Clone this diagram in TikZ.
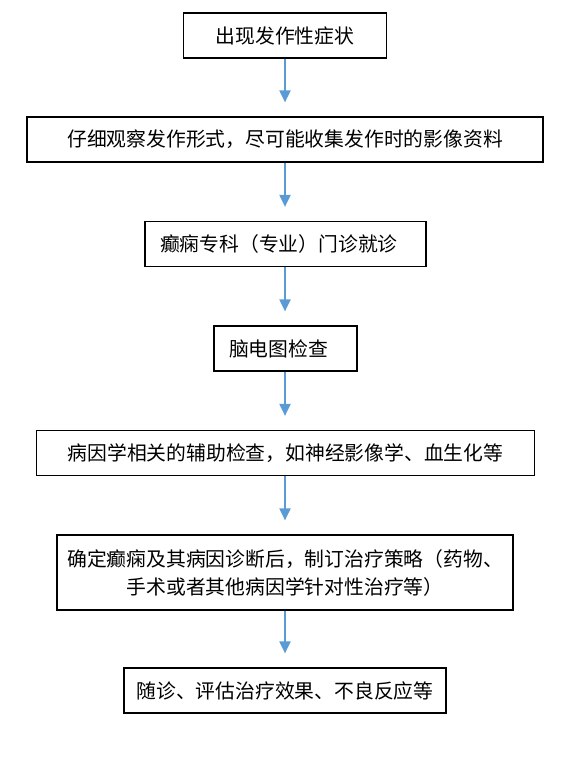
\documentclass[tikz,border=0pt]{standalone}
\usepackage{fontspec}
\setmainfont{Noto Sans CJK SC}
\usetikzlibrary{arrows.meta}
\definecolor{arrowblue}{HTML}{5B9BD5}
\begin{document}
\begin{tikzpicture}[x=1pt,y=-1pt,
  box/.style={draw=black,line width=1.2pt,rectangle,minimum height=45pt,inner ysep=0pt,inner xsep=0pt,font=\fontsize{19.8}{28}\selectfont},
  leftbox/.style={box,align=left,inner xsep=15pt},
  flow/.style={draw=arrowblue,line width=2pt,-{Triangle[length=12pt,width=11pt]},shorten >=14pt}]
\useasboundingbox (0,0) rectangle (565,770);
\node[box,minimum width=203pt] (b1) at (285,35.5) {出现发作性症状};
\node[box,minimum width=516pt] (b2) at (285,139.5) {仔细观察发作形式，尽可能收集发作时的影像资料};
\node[leftbox,text width=251pt] (b3) at (285.5,244) {癫痫专科（专业）门诊就诊};
\node[leftbox,text width=113pt] (b4) at (285.5,348.5) {脑电图检查};
\node[box,minimum width=498pt] (b5) at (285.5,453) {病因学相关的辅助检查，如神经影像学、血生化等};
\node[box,minimum height=75pt,text width=440pt,inner xsep=8pt,align=center] (b6) at (285,572.5) {确定癫痫及其病因诊断后，制订治疗策略（药物、\\手术或者其他病因学针对性治疗等）};
\node[box,minimum width=322pt] (b7) at (285,690.5) {随诊、评估治疗效果、不良反应等};
\draw[flow] (b1.south) -- (b2.north);
\draw[flow] (b2.south -| b1.south) -- (b3.north -| b1.south);
\draw[flow] (b3.south -| b1.south) -- (b4.north -| b1.south);
\draw[flow] (b4.south -| b1.south) -- (b5.north -| b1.south);
\draw[flow] (b5.south -| b1.south) -- (b6.north -| b1.south);
\draw[flow] (b6.south -| b1.south) -- (b7.north -| b1.south);
\end{tikzpicture}
\end{document}
